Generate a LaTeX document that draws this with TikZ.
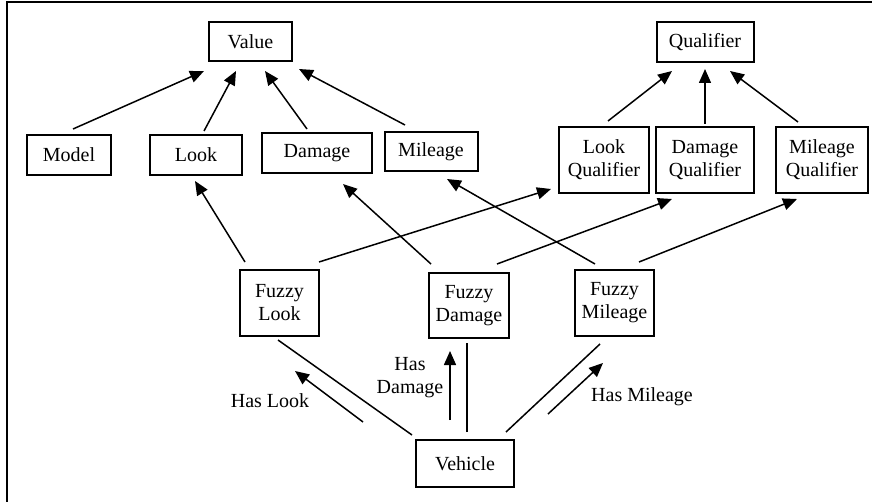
\documentclass[tikz,border=0pt]{standalone}
\usepackage{fontspec}
\setmainfont{Liberation Serif}
\usetikzlibrary{arrows.meta}
\begin{document}
\begin{tikzpicture}[x=0.5pt,y=-0.5pt,
		every node/.style={font=\fontsize{10}{11.5}\selectfont, inner sep=0pt, align=center},
		box/.style={draw, line width=1pt},
		link/.style={line width=0.75pt},
		isa/.style={link, -{Triangle[length=7pt,width=6pt]}}]
	\useasboundingbox (0,0) rectangle (872,502);
	\draw [line width=1.2pt] (7,502) -- (7,2) -- (872,2);
	\node [box, minimum width=41.5pt, minimum height=19.5pt] (value) at (250.5,41.5) {Value};
	\node [box, minimum width=48.5pt, minimum height=20pt] (qual) at (705,42) {Qualifier};
	\node [box, minimum width=42pt, minimum height=20pt] (model) at (69,155) {Model};
	\node [box, minimum width=46pt, minimum height=20pt] (look) at (196,155) {Look};
	\node [box, minimum width=55pt, minimum height=20pt] (damage) at (317,153) {Damage};
	\node [box, minimum width=46.5pt, minimum height=19.5pt] (mileage) at (431,151.5) {Mileage};
	\node [box, minimum width=45pt, minimum height=33pt] (lookq) at (604,160) {Look\\Qualifier};
	\node [box, minimum width=49pt, minimum height=33pt] (damq) at (705,160) {Damage\\Qualifier};
	\node [box, minimum width=46pt, minimum height=33pt] (milq) at (822,160) {Mileage\\Qualifier};
	\node [box, minimum width=39.5pt, minimum height=33pt] (fuzl) at (279.5,303) {Fuzzy\\Look};
	\node [box, minimum width=40pt, minimum height=32.5pt] (fuzd) at (469,305.5) {Fuzzy\\Damage};
	\node [box, minimum width=39.5pt, minimum height=33pt] (fuzm) at (614.5,303) {Fuzzy\\Mileage};
	\node [box, minimum width=49pt, minimum height=23.5pt] (veh) at (465,463.5) {Vehicle};
	\node (haslook) at (270,401) {Has Look};
	\node (hasdam) at (410,378) {Has\\Damage};
	\node (hasmil) at (642,397) {Has Mileage};
	\draw [isa] ([shift={(4,-5)}]model.north) -- ([shift={(-4,9)}]value.south west);
	\draw [isa] ([shift={(8,-3)}]look.north) -- ([shift={(-14.5,9)}]value.south);
	\draw [isa] ([shift={(-10,-3)}]damage.north) -- ([shift={(14.5,9)}]value.south);
	\draw [isa] ([shift={(-26,-6)}]mileage.north) -- ([shift={(6,7)}]value.south east);
	\draw [isa] ([shift={(4,-5)}]lookq.north) -- ([shift={(-33,8)}]qual.south);
	\draw [isa] ([shift={(0,-2)}]damq.north) -- ([shift={(0,6)}]qual.south);
	\draw [isa] ([shift={(-24,-4)}]milq.north) -- ([shift={(25,8)}]qual.south);
	\draw [isa] ([shift={(-34.5,-7)}]fuzl.north) -- ([shift={(-1,5)}]look.south);
	\draw [isa] ([shift={(-1,-7)}]fuzl.north east) -- ([shift={(-7,-5)}]lookq.south west);
	\draw [isa] ([shift={(3,-8)}]fuzd.north west) -- ([shift={(26,10)}]damage.south);
	\draw [isa] ([shift={(-13,-8)}]fuzd.north east) -- ([shift={(17,5)}]damq.south west);
	\draw [isa] ([shift={(-19.5,-5)}]fuzm.north) -- ([shift={(16,7)}]mileage.south);
	\draw [isa] ([shift={(-16,-7)}]fuzm.north east) -- ([shift={(22,5)}]milq.south west);
	\draw [link] ([shift={(-3,-4)}]veh.north west) -- ([shift={(-1.5,3)}]fuzl.south);
	\draw [link] ([shift={(2,-7)}]veh.north) -- ([shift={(-2,4)}]fuzd.south);
	\draw [link] ([shift={(-9,-7)}]veh.north east) -- ([shift={(-14.5,7)}]fuzm.south);
	\draw [isa] ([shift={(-52,-17)}]veh.north west) -- ([shift={(15.5,34)}]fuzl.south);
	\draw [isa] ([shift={(-15,-19)}]veh.north) -- ([shift={(-19,12)}]fuzd.south);
	\draw [isa] ([shift={(33,-25)}]veh.north east) -- ([shift={(-11.5,26)}]fuzm.south);
\end{tikzpicture}
\end{document}
